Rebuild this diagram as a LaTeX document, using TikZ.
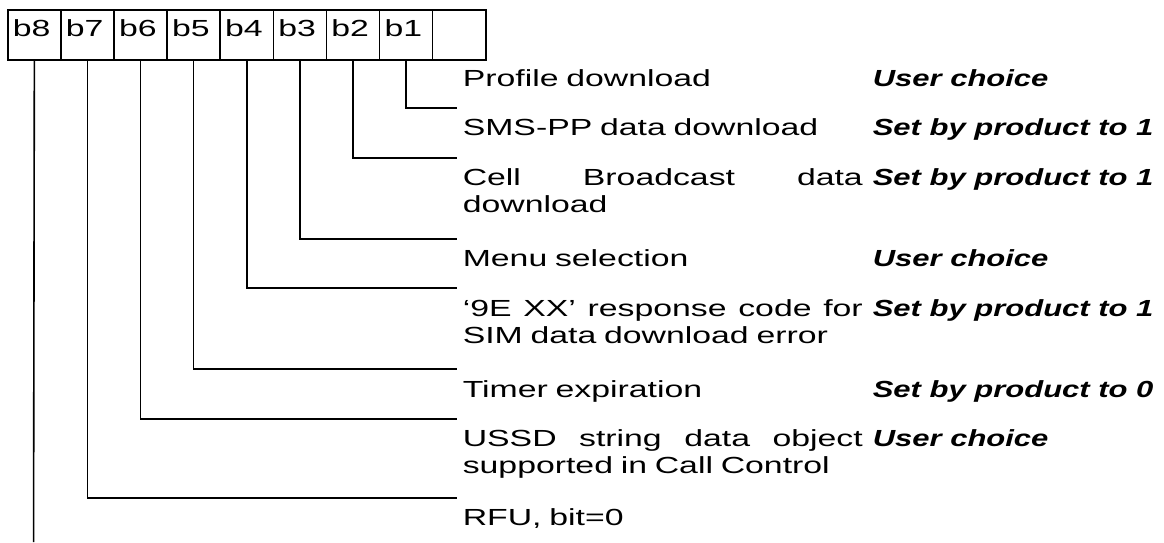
\documentclass[tikz,border=0pt]{standalone}
\usepackage{fontspec}
\setmainfont{Liberation Sans}[FakeStretch=1.45]
\newfontfamily\rfont{Liberation Sans}[FakeStretch=1.33]
\newcommand\justline[1]{\makebox[400pt][s]{\spaceskip=0pt\xspaceskip=0pt #1}}
\begin{document}
\begin{tikzpicture}[x=1pt,y=-1pt,line width=1.6pt,
  cell/.style={draw,anchor=north west,minimum height=50pt,text width=43.1pt,
    inner xsep=5pt,inner ysep=0pt,align=left,text height=16pt,text depth=12pt,
    font=\fontsize{23.3}{27}\selectfont},
  desc/.style={anchor=base west,inner sep=0pt,text width=400pt,align=left,
    font=\fontsize{23.3}{27}\selectfont},
  val/.style={anchor=base west,inner sep=0pt,
    font=\rfont\bfseries\itshape\fontsize{23.3}{27}\selectfont},
  conn/.style={line width=1.6pt}]
\useasboundingbox (0,0) rectangle (1164,542);
% bit cells
\node[cell] (c8) at (7,9) {b8};
\node[cell] (c7) at (60.1,9) {b7};
\node[cell] (c6) at (113.2,9) {b6};
\node[cell] (c5) at (166.3,9) {b5};
\node[cell] (c4) at (219.4,9) {b4};
\node[cell] (c3) at (272.5,9) {b3};
\node[cell] (c2) at (325.6,9) {b2};
\node[cell] (c1) at (378.7,9) {b1};
\node[cell] (c0) at (431.8,9) {};
% connector ends
\coordinate (e1) at (457,108);
\coordinate (e2) at (457,158);
\coordinate (e3) at (457,239);
\coordinate (e4) at (457,288);
\coordinate (e5) at (457,369);
\coordinate (e6) at (457,419);
\coordinate (e7) at (457,498);
\coordinate (e8) at (33.55,542);
\draw[conn] (c1.south) |- (e1);
\draw[conn] (c2.south) |- (e2);
\draw[conn] (c3.south) |- (e3);
\draw[conn] (c4.south) |- (e4);
\draw[conn] (c5.south) |- (e5);
\draw[conn] (c6.south) |- (e6);
\draw[conn] (c7.south) |- (e7);
\draw[conn] (c8.south) -- (e8);
% descriptions
\node[desc] (t1) at (462,86) {Profile download};
\node[desc] (t2) at (462,135) {SMS-PP data download};
\node[desc] (t3) at (462,185) {\justline{Cell Broadcast data}\\download};
\node[desc] (t4) at (462,266) {Menu selection};
\node[desc] (t5) at (462,316) {\justline{‘9E XX’ response code for}\\SIM data download error};
\node[desc] (t6) at (462,397) {Timer expiration};
\node[desc] (t7) at (462,446) {\justline{USSD string data object}\\supported in Call Control};
\node[desc] (t8) at (462,525) {RFU, bit=0};
% values
\node[val] (v1) at (872,86) {User choice};
\node[val] (v2) at (872,135) {Set by product to 1};
\node[val] (v3) at (872,185) {Set by product to 1};
\node[val] (v4) at (872,266) {User choice};
\node[val] (v5) at (872,316) {Set by product to 1};
\node[val] (v6) at (872,397) {Set by product to 0};
\node[val] (v7) at (872,446) {User choice};
\end{tikzpicture}
\end{document}
